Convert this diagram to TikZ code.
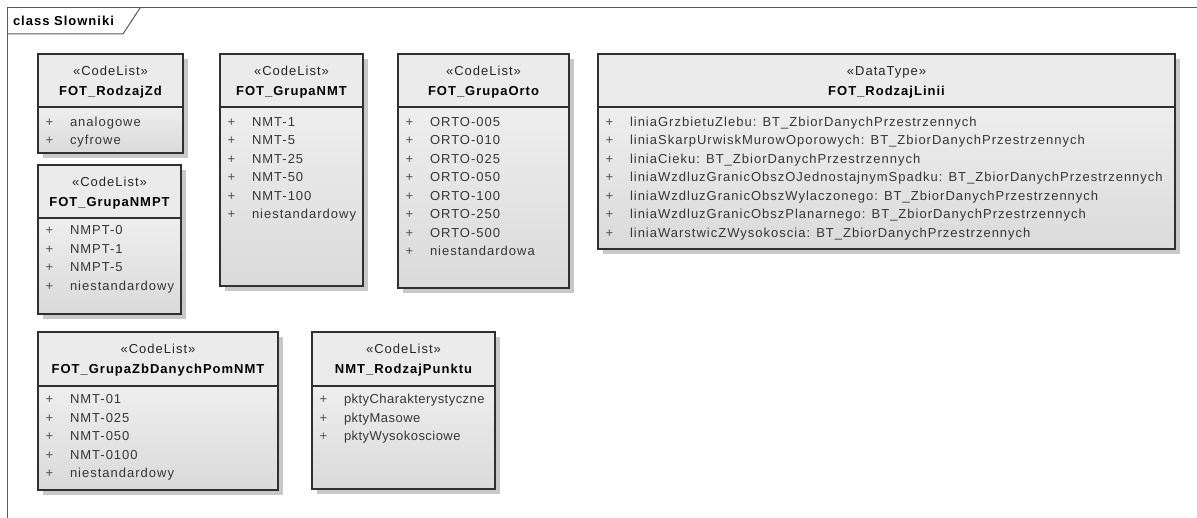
\documentclass[tikz,border=0pt]{standalone}
\usepackage{fontspec}
\setmainfont{Liberation Sans}[LetterSpace=7.7]
\definecolor{framec}{HTML}{5A5A5A}
\definecolor{borderc}{HTML}{303030}
\definecolor{headc}{HTML}{EBEBEB}
\definecolor{bodytop}{HTML}{EEEEEE}
\definecolor{bodybot}{HTML}{DADADA}
\definecolor{shadowc}{HTML}{C8C8C8}
\definecolor{attrc}{HTML}{363636}
\definecolor{plusc}{HTML}{505050}
\def\itemoff{14.5}
\def\attrextra{}
\newcommand\umlbox[9]{%
  \fill[shadowc] (#2+5,#3+5) rectangle (#4+5,#5+5);
  \fill[headc] (#2,#3) rectangle (#4,#6);
  \shade[top color=bodytop, bottom color=bodybot] (#2,#6) rectangle (#4,#5);
  \node[boxframe, anchor=north west, minimum width={#4-#2}, minimum height={#5-#3}] (#1) at (#2,#3) {};
  \draw[sepline] (#2,#6) -- (#4,#6);
  \node[stereo, anchor=base] (#1-st) at ({(#2+#4)/2},{#3+21.5}) {«#7»};
  \node[classname, anchor=base] (#1-nm) at ({(#2+#4)/2},{#3+41.5}) {#8};
  \foreach \t [count=\i] in {#9} {
    \node[plusmark, anchor=base] (#1-p\i) at ({#2+11.5},{#6+\itemoff+4.6+(\i-1)*18.5}) {+};
    \node[attr, anchor=base west] (#1-a\i) at ({#2+32},{#6+\itemoff+4.6+(\i-1)*18.5}) {\attrextra\t};
  }%
}
\begin{document}
\begin{tikzpicture}[x=1pt,y=-1pt,
  every node/.style={inner sep=0pt, outer sep=0pt},
  frameline/.style={draw=framec, line width=1pt},
  boxframe/.style={draw=borderc, line width=1.3pt, rectangle},
  sepline/.style={draw=borderc, line width=1.3pt},
  stereo/.style={font=\fontsize{13}{15}\selectfont, text=black!85},
  classname/.style={font=\fontsize{13}{15}\selectfont\bfseries, text=black},
  plusmark/.style={font=\fontsize{13}{15}\selectfont, text=plusc},
  attr/.style={font=\fontsize{13}{15}\selectfont, text=attrc},
  titletext/.style={font=\fontsize{13}{15}\selectfont\bfseries, text=black},
]
\useasboundingbox (0,0) rectangle (1197,518);
\fill[white] (0,0) rectangle (1197,518);
\draw[frameline] (7,518) -- (7,8) -- (1197,8);
\draw[frameline] (7,34) -- (123,34) -- (140,8);
\node[titletext, anchor=base west] (title) at (13,25.5) {class Slowniki};

\umlbox{rodzajzd}{38}{54}{183}{153}{107}{CodeList}{FOT\_RodzajZd}{analogowe,cyfrowe}
\umlbox{grupanmt}{220}{54}{363}{286}{107}{CodeList}{FOT\_GrupaNMT}{NMT-1,NMT-5,NMT-25,NMT-50,NMT-100,niestandardowy}
\umlbox{grupaorto}{398}{54}{569}{288}{107}{CodeList}{FOT\_GrupaOrto}{ORTO-005,ORTO-010,ORTO-025,ORTO-050,ORTO-100,ORTO-250,ORTO-500,niestandardowa}
\umlbox{rodzajlinii}{598}{54}{1175}{249}{107}{DataType}{FOT\_RodzajLinii}{liniaGrzbietuZlebu:  BT\_ZbiorDanychPrzestrzennych,liniaSkarpUrwiskMurowOporowych:  BT\_ZbiorDanychPrzestrzennych,liniaCieku:  BT\_ZbiorDanychPrzestrzennych,liniaWzdluzGranicObszOJednostajnymSpadku:  BT\_ZbiorDanychPrzestrzennych,liniaWzdluzGranicObszWylaczonego:  BT\_ZbiorDanychPrzestrzennych,liniaWzdluzGranicObszPlanarnego:  BT\_ZbiorDanychPrzestrzennych,liniaWarstwicZWysokoscia:  BT\_ZbiorDanychPrzestrzennych}
\def\itemoff{12}
\umlbox{grupanmpt}{38}{165}{181}{314}{218}{CodeList}{FOT\_GrupaNMPT}{NMPT-0,NMPT-1,NMPT-5,niestandardowy}
\def\itemoff{13}
\umlbox{grupazb}{38}{332}{278}{490}{386}{CodeList}{FOT\_GrupaZbDanychPomNMT}{NMT-01,NMT-025,NMT-050,NMT-0100,niestandardowy}
\def\attrextra{\addfontfeature{LetterSpace=3.5}}
\umlbox{rodzajpunktu}{312}{332}{495}{489}{386}{CodeList}{NMT\_RodzajPunktu}{pktyCharakterystyczne,pktyMasowe,pktyWysokosciowe}
\end{tikzpicture}
\end{document}
